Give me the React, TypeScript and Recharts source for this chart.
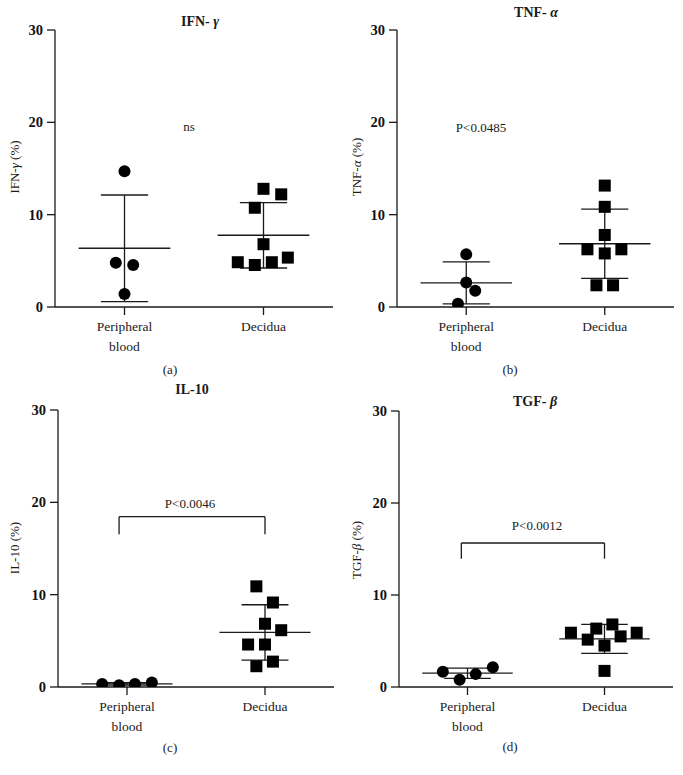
import { ReferenceLine, Scatter, ScatterChart, XAxis, YAxis } from "recharts";

const categories = ["Peripheral blood", "Decidua"];
const categoryX = [1, 3];
const yTicks = [0, 10, 20, 30];

// values in %, spread = horizontal offset of each dot in x-axis units
const ifnPeripheral = [14.7, 4.8, 4.55, 1.4];
const ifnPeripheralSpread = [0, -0.125, 0.125, 0];
const ifnDecidua = [12.8, 12.2, 10.75, 6.8, 4.85, 4.55, 4.85, 5.35];
const ifnDeciduaSpread = [0, 0.255, -0.125, 0, -0.37, -0.125, 0.12, 0.35];

const tnfPeripheral = [5.7, 2.65, 1.75, 0.35];
const tnfPeripheralSpread = [0, 0, 0.13, -0.12];
const tnfDecidua = [13.15, 10.85, 7.8, 6.25, 5.8, 6.25, 2.35, 2.35];
const tnfDeciduaSpread = [0, 0, 0, -0.25, 0, 0.24, -0.12, 0.12];

const il10Peripheral = [0.32, 0.18, 0.32, 0.5];
const il10PeripheralSpread = [-0.36, -0.115, 0.115, 0.36];
const il10Decidua = [10.9, 9.15, 6.85, 6.15, 4.6, 4.6, 2.75, 2.25];
const il10DeciduaSpread = [-0.125, 0.115, 0, 0.235, -0.245, 0, 0.115, -0.125];

const tgfPeripheral = [1.65, 0.8, 1.4, 2.15];
const tgfPeripheralSpread = [-0.36, -0.115, 0.12, 0.37];
const tgfDecidua = [5.9, 5.15, 6.35, 4.5, 6.8, 5.5, 5.9, 1.75];
const tgfDeciduaSpread = [-0.49, -0.245, -0.12, 0, 0.115, 0.235, 0.47, 0];

// significance brackets: [left x, right x, top y, foot y]
const il10Bracket = [0.885, 3, 18.45, 16.55];
const tgfBracket = [0.91, 3, 15.65, 13.95];

const ink = "#1a1a1a";
const font = "'Liberation Serif', 'DejaVu Serif', serif";

const meanSd = (vals: number[]) => {
  const m = vals.reduce((a, b) => a + b, 0) / vals.length;
  const v = vals.reduce((a, b) => a + (b - m) * (b - m), 0) / (vals.length - 1);
  return { m, sd: Math.sqrt(v) };
};

const toPoints = (vals: number[], spread: number[], cx: number) =>
  vals.map((y, i) => ({ x: cx + spread[i], y }));

const panels = [
  {
    key: "a", left: 0, top: 0, width: 342, height: 380, axisW: 55, mTop: 30, mRight: 9, mBottom: 33,
    title: ["IFN- ", "γ"], titleAt: [200, 22], yLabel: ["IFN-", "γ", " (%)"], yLabelAt: [15, 167],
    note: "ns", noteAt: [189, 127], tag: "(a)", tagAt: [170, 370],
    peripheral: toPoints(ifnPeripheral, ifnPeripheralSpread, categoryX[0]), pv: ifnPeripheral,
    decidua: toPoints(ifnDecidua, ifnDeciduaSpread, categoryX[1]), dv: ifnDecidua, bracket: null as number[] | null,
  },
  {
    key: "b", left: 342, top: 0, width: 341, height: 380, axisW: 55, mTop: 30, mRight: 9, mBottom: 33,
    title: ["TNF- ", "α"], titleAt: [194, 13], yLabel: ["TNF-", "α", " (%)"], yLabelAt: [15, 167],
    note: "P<0.0485", noteAt: [139, 128], tag: "(b)", tagAt: [168, 370],
    peripheral: toPoints(tnfPeripheral, tnfPeripheralSpread, categoryX[0]), pv: tnfPeripheral,
    decidua: toPoints(tnfDecidua, tnfDeciduaSpread, categoryX[1]), dv: tnfDecidua, bracket: null,
  },
  {
    key: "c", left: 0, top: 380, width: 342, height: 395, axisW: 58, mTop: 30, mRight: 8, mBottom: 48,
    title: ["IL-10", ""], titleAt: [192, 10], yLabel: ["IL-10", "", " (%)"], yLabelAt: [15, 168],
    note: "P<0.0046", noteAt: [190, 124], tag: "(c)", tagAt: [170, 368],
    peripheral: toPoints(il10Peripheral, il10PeripheralSpread, categoryX[0]), pv: il10Peripheral,
    decidua: toPoints(il10Decidua, il10DeciduaSpread, categoryX[1]), dv: il10Decidua, bracket: il10Bracket,
  },
  {
    key: "d", left: 342, top: 380, width: 341, height: 395, axisW: 57, mTop: 31, mRight: 10, mBottom: 48,
    title: ["TGF- ", "β"], titleAt: [193, 22], yLabel: ["TGF-", "β", " (%)"], yLabelAt: [15, 170],
    note: "P<0.0012", noteAt: [195, 146], tag: "(d)", tagAt: [168, 367],
    peripheral: toPoints(tgfPeripheral, tgfPeripheralSpread, categoryX[0]), pv: tgfPeripheral,
    decidua: toPoints(tgfDecidua, tgfDeciduaSpread, categoryX[1]), dv: tgfDecidua, bracket: tgfBracket,
  },
];

const CategoryTick = (props: any) => {
  const { x, y, payload } = props;
  const name = categories[categoryX.indexOf(payload.value)] ?? "";
  const lines = name === "Peripheral blood" ? ["Peripheral", "blood"] : [name];
  return (
    <text x={x} y={y} textAnchor="middle" fontSize={13.5} fontFamily={font} fill={ink}>
      {lines.map((l, i) => (
        <tspan key={l} x={x} dy={i === 0 ? 14 : 20}>
          {l}
        </tspan>
      ))}
    </text>
  );
};

const Dot = (props: any) => <circle cx={props.cx} cy={props.cy} r={6} fill="#000" />;
const Square = (props: any) => (
  <rect x={props.cx - 6} y={props.cy - 6} width={12} height={12} fill="#000" />
);

const seg = (x1: number, y1: number, x2: number, y2: number, k: string) => (
  <ReferenceLine
    key={k}
    segment={[{ x: x1, y: y1 }, { x: x2, y: y2 }]}
    stroke={ink}
    strokeWidth={1.3}
    ifOverflow="visible"
  />
);

const statLines = (vals: number[], cx: number, k: string) => {
  const { m, sd } = meanSd(vals);
  return [
    seg(cx - 0.66, m, cx + 0.66, m, k + "m"),
    seg(cx, Math.max(0, m - sd), cx, m + sd, k + "v"),
    seg(cx - 0.34, m + sd, cx + 0.34, m + sd, k + "t"),
    seg(cx - 0.34, Math.max(0, m - sd), cx + 0.34, Math.max(0, m - sd), k + "b"),
  ];
};

const place = (at: number[]): React.CSSProperties => ({
  position: "absolute",
  left: at[0],
  top: at[1],
  transform: "translate(-50%, -50%)",
  whiteSpace: "nowrap",
  lineHeight: "16px",
});

const Panel = ({ p }: { p: (typeof panels)[number] }) => (
  <div style={{ position: "absolute", left: p.left, top: p.top, width: p.width, height: p.height }}>
    <ScatterChart
      width={p.width}
      height={p.height}
      margin={{ top: p.mTop, right: p.mRight, bottom: p.mBottom, left: 0 }}
    >
      <XAxis
        type="number"
        dataKey="x"
        domain={[0, 4]}
        ticks={categoryX}
        height={40}
        tickSize={8}
        tick={(t: any) => <CategoryTick {...t} />}
        axisLine={{ stroke: ink, strokeWidth: 1.3 }}
        tickLine={{ stroke: ink, strokeWidth: 1.3 }}
        allowDataOverflow
      />
      <YAxis
        type="number"
        dataKey="y"
        domain={[0, 30]}
        ticks={yTicks}
        width={p.axisW}
        tickSize={8}
        tickMargin={4}
        tick={{ fontSize: 14.5, fontWeight: "bold", fontFamily: font, fill: "#111" }}
        axisLine={{ stroke: ink, strokeWidth: 1.3 }}
        tickLine={{ stroke: ink, strokeWidth: 1.3 }}
        allowDataOverflow
      />
      {statLines(p.pv, categoryX[0], "p")}
      {statLines(p.dv, categoryX[1], "d")}
      {p.bracket && [
        seg(p.bracket[0], p.bracket[2], p.bracket[1], p.bracket[2], "bh"),
        seg(p.bracket[0], p.bracket[3], p.bracket[0], p.bracket[2], "bl"),
        seg(p.bracket[1], p.bracket[3], p.bracket[1], p.bracket[2], "br"),
      ]}
      <Scatter data={p.peripheral} shape={Dot} isAnimationActive={false} />
      <Scatter data={p.decidua} shape={Square} isAnimationActive={false} />
    </ScatterChart>
    <div style={{ ...place(p.titleAt), fontWeight: "bold", fontSize: 14 }}>
      {p.title[0]}
      <i>{p.title[1]}</i>
    </div>
    <div
      style={{
        ...place(p.yLabelAt),
        transform: "translate(-50%, -50%) rotate(-90deg)",
        fontSize: 13,
      }}
    >
      {p.yLabel[0]}
      <i>{p.yLabel[1]}</i>
      {p.yLabel[2]}
    </div>
    <div style={{ ...place(p.noteAt), fontSize: 13 }}>{p.note}</div>
    <div style={{ ...place(p.tagAt), fontSize: 13 }}>{p.tag}</div>
  </div>
);

export default function App() {
  return (
    <div
      style={{
        position: "absolute",
        left: 0,
        top: 0,
        width: 683,
        height: 775,
        background: "#fff",
        fontFamily: font,
        color: ink,
      }}
    >
      {panels.map((p) => (
        <Panel key={p.key} p={p} />
      ))}
    </div>
  );
}
